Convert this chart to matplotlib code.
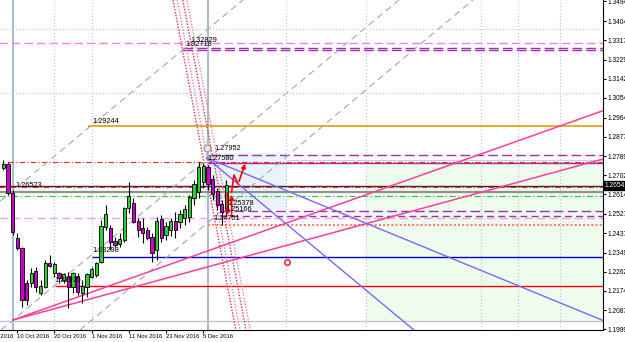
import numpy as np
import matplotlib.pyplot as plt
import matplotlib.transforms as mtransforms

plt.rcParams['font.family'] = ['Liberation Sans', 'DejaVu Sans']

# daily GBPUSD candles, bar 0 ~ 28 Sep 2016
opens = [1.27335, 1.27486, 1.26196, 1.24144, 1.23688, 1.22092, 1.22092, 1.22621, 1.21636, 1.21937,
         1.23004, 1.22548, 1.22548, 1.22243, 1.22393, 1.21937, 1.22393, 1.21636, 1.21937, 1.22393,
         1.22471, 1.23077, 1.24645, 1.24600, 1.23989, 1.23884, 1.24066, 1.25512, 1.25740, 1.24901,
         1.24600, 1.24490, 1.24190, 1.23611, 1.24978, 1.24294, 1.24522, 1.24887, 1.24887, 1.25069,
         1.25115, 1.25981, 1.26255, 1.26711, 1.27349, 1.26802, 1.26255, 1.25662, 1.25525]
highs = [1.27714, 1.27636, 1.26346, 1.24372, 1.23761, 1.22243, 1.22776, 1.22849, 1.22243, 1.23155,
         1.23383, 1.23077, 1.22621, 1.22548, 1.22621, 1.22621, 1.22548, 1.22243, 1.22548, 1.22849,
         1.23077, 1.24978, 1.25662, 1.24750, 1.24217, 1.24372, 1.25585, 1.26724, 1.25968, 1.25056,
         1.25056, 1.24673, 1.24372, 1.25129, 1.25206, 1.24887, 1.25069, 1.25343, 1.25434, 1.25662,
         1.26118, 1.26802, 1.27622, 1.27580, 1.27500, 1.27030, 1.26437, 1.25890, 1.26802]
lows = [1.27258, 1.26118, 1.24294, 1.23611, 1.21026, 1.21103, 1.21937, 1.21709, 1.21559, 1.21864,
        1.22849, 1.22393, 1.22092, 1.22092, 1.20953, 1.21636, 1.21559, 1.21181, 1.21481, 1.22320,
        1.22393, 1.23004, 1.24522, 1.23611, 1.23761, 1.23761, 1.23989, 1.25284, 1.24828, 1.24217,
        1.23916, 1.24066, 1.23077, 1.23155, 1.23975, 1.24066, 1.24249, 1.24158, 1.24614, 1.24750,
        1.24887, 1.25662, 1.25981, 1.26437, 1.26346, 1.25890, 1.25434, 1.24751, 1.25206]
closes = [1.27486, 1.26196, 1.24445, 1.23688, 1.21331, 1.21331, 1.22548, 1.21937, 1.21937, 1.23004,
          1.22881, 1.22927, 1.22320, 1.22471, 1.21937, 1.22548, 1.21709, 1.21937, 1.22471, 1.22699,
          1.23004, 1.24673, 1.25206, 1.23989, 1.23838, 1.24066, 1.25512, 1.26040, 1.24901, 1.24522,
          1.24399, 1.24144, 1.23460, 1.24901, 1.24158, 1.24659, 1.24887, 1.24522, 1.25206, 1.25434,
          1.25981, 1.26574, 1.27349, 1.27395, 1.26619, 1.26164, 1.25662, 1.25343, 1.26541]
last_price = 1.26541

# right price scale and date scale
price_labels = ['1.19995', '1.20870', '1.21745', '1.22620', '1.23495', '1.24370', '1.25270',
                '1.26145', '1.27020', '1.27895', '1.28770', '1.29645', '1.30545', '1.31420',
                '1.32295', '1.33170', '1.34045', '1.34945']
date_bars = [-5, 3, 11, 19, 27, 35, 43]
date_labels = ['28 Sep 2016', '10 Oct 2016', '20 Oct 2016', '1 Nov 2016', '11 Nov 2016',
               '23 Nov 2016', '5 Dec 2016']

# horizontal levels: price, first bar
level_prices = [1.33048, 1.32829, 1.32718, 1.29244, 1.27952, 1.27580, 1.27600, 1.26523,
                1.26469, 1.26277, 1.26059, 1.25378, 1.25166, 1.25056, 1.24751, 1.23298,
                1.21969, 1.33686, 1.30768, 1.20380, 1.27714]
level_start = [-1, 38.6, 38.6, 18.2, 44.5, 44.0, 1.0, -1,
               -1, -1, -1, 46.6, 46.6, -1, 44.0, 19.1,
               11.1, -1, -1, -1, 61.0]
level_style = [('#ee82ee', (0, (6, 3)), 1.0), ('#9b30a8', (0, (7, 3)), 1.0),
               ('#9b30a8', (0, (7, 3)), 1.0), ('#e0a000', '-', 1.2),
               ('#9b30a8', (0, (7, 3)), 1.0), ('#9b30a8', '-', 1.0),
               ('#ff2020', (0, (5, 2, 1, 2)), 0.8), ('#303030', '-', 1.0),
               ('#ff2020', (0, (5, 2, 1, 2)), 0.8), ('#909090', '-', 1.6),
               ('#32cd32', (0, (5, 2, 1, 2)), 0.9), ('#9b30a8', (0, (7, 3)), 1.0),
               ('#9b30a8', (0, (5, 3)), 1.0), ('#f0a0f0', (0, (6, 3)), 1.0),
               ('#fa8072', (0, (1, 1)), 1.5), ('#0000cd', '-', 1.0),
               ('#ff0000', '-', 1.0), ('#b0c4de', (0, (1, 2)), 0.8),
               ('#b0c4de', (0, (1, 2)), 0.8), ('#b8c4d4', '-', 0.9),
               ('#c8d0dc', '-', 0.8)]

# level captions: text, bar, price
cap_text = ['1.32829', '1.32718', '1.29244', '1.27952', '1.27580', '1.26523', '1.25378',
            '1.25166', '1.24751', '1.23298', '1.21975']
cap_bar = [40.2, 39.1, 19.1, 45.5, 43.8, 2.5, 48.3, 47.7, 45.1, 19.1, 11.1]
cap_price = [1.33002, 1.32820, 1.29310, 1.28078, 1.27622, 1.26390, 1.25571, 1.25297,
             1.24887, 1.23428, 1.22060]

# trend rays (anchor, second point) and infinite channel lines
pink_rays = [((2.09, 1.20419), (119.7, 1.29264)), ((2.09, 1.20419), (121.9, 1.27349))]
slate_rays = [((43.8, 1.27805), (121.9, 1.21012)), ((43.8, 1.27805), (88.3, 1.19963))]
grey_lines = [((2.09, 1.20419), (85.1, 1.35008)), ((31.55, 1.31498), (114.6, 1.46087)),
              ((16.5, 1.19963), (101.0, 1.35008))]
red_dots = [((36.5, 1.35008), (50.0, 1.19963)), ((37.4, 1.35008), (50.9, 1.19963)),
            ((38.6, 1.35008), (52.2, 1.19963)), ((39.5, 1.35008), (53.1, 1.19963))]
vlines_solid = [2, 44]
vlines_dotted = [10.9, 19.1, 60.8, 78.0, 102.7, 110.7, 119.7]

fig = plt.figure(figsize=(6.25, 3.42), dpi=100)
ax = fig.add_axes([0, 12 / 342, 603 / 625, 330 / 342])
x0, x1 = -0.71, 128.97
y0, y1 = 1.19963, 1.35008

# shaded zones
ax.fill_between([78.0, 140], 1.20328, 1.27714, color='#eefcee', lw=0, zorder=0)
ax.fill_between([43.4, 61.0], 1.25434, 1.28033, color='#eaf3fb', lw=0, zorder=0)

for x in vlines_dotted:
    ax.axvline(x, color='#b0c4de', ls=(0, (1, 2)), lw=0.8, zorder=1)
for x in vlines_solid:
    ax.axvline(x, color='#a3b4d6', lw=1.3, zorder=1)

for p, s, (c, ls, lw) in zip(level_prices, level_start, level_style):
    ax.hlines(p, s, 140, colors=c, linestyles=ls, lw=lw, zorder=2)

for p1, p2 in grey_lines:
    ax.axline(p1, p2, color='#a0a8b4', ls=(0, (6, 4)), lw=0.8, zorder=2)
for i, (p1, p2) in enumerate(red_dots):
    ax.axline(p1, p2, color='#dc2c50' if i in (0, 2) else '#f08098', ls=(0, (1.2, 1.2)),
              lw=0.9, zorder=2)


def ray(p1, p2, **kw):
    k = (p2[1] - p1[1]) / (p2[0] - p1[0])
    ax.plot([p1[0], 140], [p1[1], p1[1] + k * (140 - p1[0])], **kw)


for p1, p2 in pink_rays:
    ray(p1, p2, color='#ff3d9a', lw=1.1, zorder=3)
for p1, p2 in slate_rays:
    ray(p1, p2, color='#7b68ee', lw=1.0, zorder=3)

# candles
bars = np.arange(len(opens))
o, h, l, c = map(np.array, (opens, highs, lows, closes))
up = c >= o
ax.vlines(bars, l, h, colors='black', lw=0.8, zorder=4)
ax.bar(bars, np.abs(c - o) + 0.0003, bottom=np.minimum(o, c), width=0.7,
       color=np.where(up, '#33cc33', '#cc00cc'), edgecolor='black', lw=0.6, zorder=5)

# red arrows
arrow_kw = dict(arrowstyle='-|>', color='red', lw=1.2, mutation_scale=6)
ax.annotate('', xy=(48.2, 1.25069), xytext=(48.2, 1.26346), arrowprops=arrow_kw, zorder=6)
ax.annotate('', xy=(49.1, 1.26255), xytext=(49.1, 1.24978), arrowprops=arrow_kw, zorder=6)
zig_x = [49.1, 49.6, 50.5]
zig_y = [1.26255, 1.27030, 1.26619]
ax.plot(zig_x, zig_y, color='red', lw=1.2, zorder=6)
ax.annotate('', xy=(52.2, 1.27668), xytext=(50.5, 1.26619), arrowprops=arrow_kw, zorder=6)

# icons
ax.plot(43.8, 1.2826, 'o', ms=5, mfc='#e8e8e8', mec='#909090', mew=0.8, zorder=6)
ax.plot(61.0, 1.23063, 'o', ms=4, mfc='white', mec='#ff3030', mew=1.2, zorder=6)

for t, x, y in zip(cap_text, cap_bar, cap_price):
    ax.text(x, y, t, fontsize=5.3, color='black', va='bottom', ha='left', zorder=7)

# axes
ax.yaxis.tick_right()
ax.set_yticks([float(s) for s in price_labels], price_labels)
ax.tick_params(axis='y', labelsize=4.8, length=2, pad=1, colors='black')
ax.set_xticks(date_bars, [''] * len(date_bars))
ax.tick_params(axis='x', length=2)
xtrans = mtransforms.blended_transform_factory(ax.transData, ax.transAxes)
for b, t in zip(date_bars, date_labels):
    ax.text(b, -0.012, t, transform=xtrans, fontsize=4.2, va='top', ha='left', clip_on=False)
for side in ('top', 'left'):
    ax.spines[side].set_visible(False)
ax.spines['right'].set_linewidth(0.8)
ax.spines['bottom'].set_linewidth(0.8)
ax.set_xlim(x0, x1)
ax.set_ylim(y0, y1)

trans = mtransforms.blended_transform_factory(ax.transAxes, ax.transData)
ax.text(1.003, last_price, f'{last_price:.5f}', transform=trans, fontsize=4.8, color='white',
        va='center', ha='left', bbox=dict(boxstyle='square,pad=0.12', fc='black', ec='black'),
        zorder=8, clip_on=False)

plt.savefig('out.png', dpi=100)
